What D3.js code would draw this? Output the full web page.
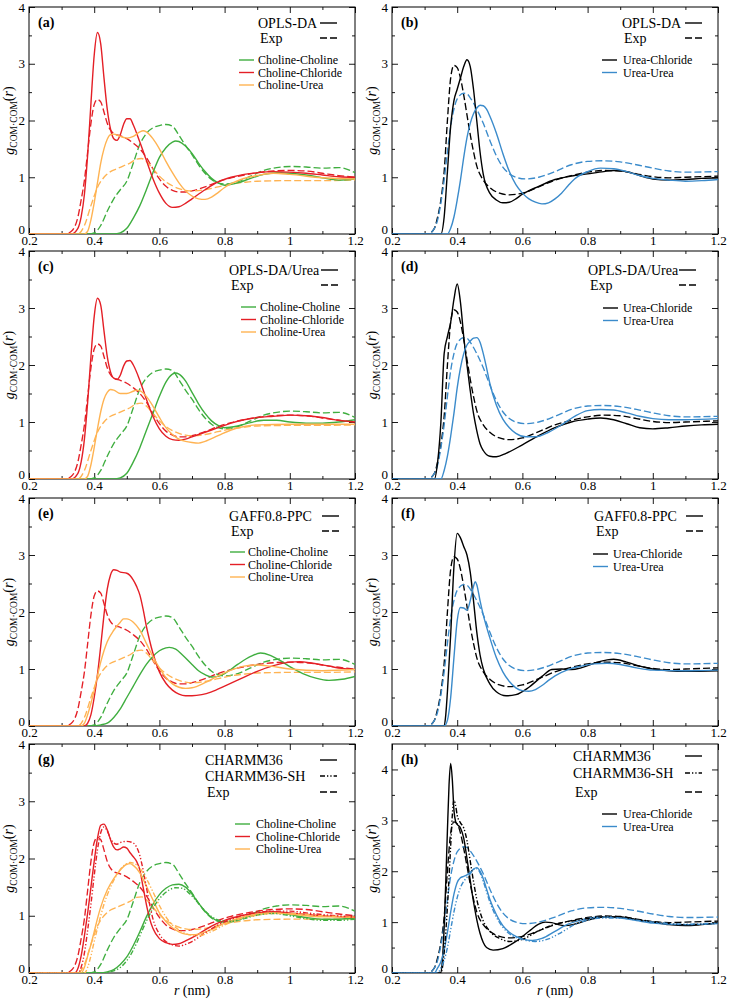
<!DOCTYPE html>
<html><head><meta charset="utf-8">
<script src="https://cdn.jsdelivr.net/npm/d3@7"></script>
<style>body{margin:0;background:#fff}svg{display:block}</style>
</head><body><svg id="c" width="729" height="1000"></svg>
<script>
// ---------- DATA ----------
const xTicks = [0.2,0.4,0.6,0.8,1.0,1.2];
const yTicks = [0,1,2,3,4];
const panelLetters = ["(a)","(b)","(c)","(d)","(e)","(f)","(g)","(h)"];
const modelNames = [["OPLS-DA"],["OPLS-DA"],["OPLS-DA/Urea"],["OPLS-DA/Urea"],["GAFF0.8-PPC"],["GAFF0.8-PPC"],["CHARMM36","CHARMM36-SH"],["CHARMM36","CHARMM36-SH"]];
const cholineLabels = ["Choline-Choline","Choline-Chloride","Choline-Urea"];
const ureaLabels = ["Urea-Chloride","Urea-Urea"];

// Experimental curves (same in every panel of a column)
const expCholCholine = [[0.2,0],[0.38,0],[0.40,0.02],[0.42,0.15],[0.44,0.4],[0.46,0.62],[0.48,0.78],[0.50,0.93],[0.52,1.25],[0.54,1.58],[0.56,1.77],[0.58,1.87],[0.60,1.91],[0.62,1.93],[0.64,1.9],[0.66,1.74],[0.68,1.56],[0.70,1.4],[0.72,1.22],[0.74,1.07],[0.76,0.96],[0.78,0.9],[0.80,0.88],[0.84,0.92],[0.88,1.02],[0.92,1.12],[0.96,1.17],[1.0,1.19],[1.05,1.18],[1.1,1.16],[1.15,1.17],[1.2,1.08]];
const expCholChloride = [[0.2,0],[0.31,0],[0.33,0.05],[0.35,0.3],[0.36,0.6],[0.37,0.95],[0.38,1.45],[0.39,1.95],[0.40,2.28],[0.41,2.37],[0.42,2.33],[0.43,2.15],[0.44,1.95],[0.45,1.83],[0.46,1.77],[0.48,1.73],[0.50,1.68],[0.52,1.6],[0.54,1.5],[0.56,1.35],[0.58,1.15],[0.60,0.97],[0.62,0.84],[0.64,0.77],[0.66,0.74],[0.68,0.74],[0.70,0.76],[0.74,0.83],[0.78,0.92],[0.82,0.99],[0.86,1.04],[0.90,1.08],[0.95,1.11],[1.0,1.12],[1.05,1.11],[1.1,1.07],[1.15,1.03],[1.2,1.0]];
const expCholUrea = [[0.2,0],[0.35,0],[0.37,0.15],[0.39,0.5],[0.41,0.82],[0.43,1.0],[0.45,1.1],[0.47,1.15],[0.49,1.2],[0.51,1.25],[0.53,1.32],[0.545,1.33],[0.56,1.28],[0.58,1.15],[0.60,1.02],[0.62,0.92],[0.64,0.85],[0.66,0.8],[0.68,0.77],[0.70,0.76],[0.74,0.78],[0.78,0.83],[0.82,0.88],[0.86,0.91],[0.9,0.93],[1.0,0.94],[1.1,0.94],[1.2,0.95]];
const expUreaChloride = [[0.2,0],[0.31,0],[0.33,0.1],[0.34,0.3],[0.35,0.6],[0.36,1.1],[0.37,2.0],[0.38,2.75],[0.39,2.97],[0.40,2.93],[0.41,2.75],[0.42,2.45],[0.43,2.1],[0.44,1.75],[0.45,1.45],[0.46,1.2],[0.48,0.95],[0.50,0.82],[0.53,0.72],[0.56,0.69],[0.60,0.72],[0.65,0.83],[0.70,0.95],[0.75,1.03],[0.80,1.09],[0.85,1.12],[0.90,1.11],[0.95,1.06],[1.0,1.01],[1.05,0.99],[1.1,1.0],[1.2,1.02]];
const expUreaUrea = [[0.2,0],[0.31,0],[0.33,0.1],[0.34,0.25],[0.35,0.55],[0.36,0.95],[0.37,1.45],[0.38,1.9],[0.39,2.2],[0.40,2.38],[0.42,2.48],[0.43,2.47],[0.44,2.4],[0.46,2.2],[0.48,1.95],[0.50,1.65],[0.52,1.38],[0.54,1.18],[0.56,1.06],[0.58,1.0],[0.61,0.97],[0.65,1.0],[0.70,1.1],[0.75,1.22],[0.80,1.28],[0.85,1.29],[0.90,1.27],[0.95,1.22],[1.0,1.16],[1.05,1.11],[1.1,1.09],[1.2,1.1]];

// (a) OPLS-DA
const aCholine = [[0.2,0],[0.46,0],[0.48,0.02],[0.50,0.1],[0.52,0.28],[0.54,0.5],[0.56,0.78],[0.58,1.08],[0.60,1.35],[0.62,1.52],[0.64,1.62],[0.65,1.64],[0.66,1.63],[0.68,1.55],[0.70,1.42],[0.72,1.25],[0.74,1.1],[0.76,0.98],[0.78,0.9],[0.80,0.86],[0.84,0.9],[0.88,0.98],[0.92,1.05],[0.96,1.08],[1.0,1.07],[1.05,1.04],[1.1,0.99],[1.15,0.95],[1.2,0.97]];
const aChloride = [[0.2,0],[0.33,0],[0.35,0.1],[0.36,0.3],[0.37,0.7],[0.38,1.4],[0.39,2.3],[0.40,3.15],[0.41,3.55],[0.42,3.35],[0.43,2.75],[0.44,2.2],[0.45,1.85],[0.46,1.68],[0.47,1.65],[0.48,1.75],[0.49,1.93],[0.50,2.03],[0.51,2.03],[0.52,1.92],[0.54,1.62],[0.56,1.3],[0.58,0.98],[0.60,0.72],[0.62,0.54],[0.64,0.47],[0.66,0.48],[0.68,0.54],[0.70,0.62],[0.74,0.78],[0.78,0.92],[0.82,1.0],[0.86,1.05],[0.90,1.08],[0.95,1.1],[1.0,1.09],[1.05,1.07],[1.1,1.04],[1.15,1.01],[1.2,1.0]];
const aUrea = [[0.2,0],[0.37,0],[0.38,0.05],[0.39,0.25],[0.40,0.55],[0.41,0.9],[0.42,1.25],[0.43,1.5],[0.44,1.67],[0.45,1.75],[0.46,1.76],[0.48,1.72],[0.50,1.69],[0.52,1.72],[0.54,1.8],[0.55,1.82],[0.56,1.8],[0.58,1.68],[0.60,1.5],[0.62,1.28],[0.64,1.08],[0.66,0.9],[0.68,0.76],[0.70,0.67],[0.72,0.62],[0.74,0.61],[0.76,0.65],[0.78,0.73],[0.80,0.82],[0.85,0.96],[0.90,1.03],[0.95,1.07],[1.0,1.05],[1.1,0.99],[1.2,0.97]];
// (b) OPLS-DA
const bChloride = [[0.2,0],[0.35,0],[0.36,0.3],[0.37,1.1],[0.38,1.9],[0.39,2.35],[0.40,2.55],[0.41,2.75],[0.42,2.95],[0.43,3.07],[0.44,2.95],[0.45,2.55],[0.46,2.0],[0.47,1.45],[0.48,1.05],[0.50,0.72],[0.52,0.6],[0.54,0.55],[0.56,0.56],[0.58,0.62],[0.60,0.7],[0.65,0.84],[0.70,0.96],[0.75,1.02],[0.80,1.06],[0.85,1.1],[0.88,1.12],[0.92,1.1],[0.96,1.03],[1.0,0.97],[1.05,0.95],[1.1,0.96],[1.15,0.98],[1.2,0.99]];
const bUrea = [[0.2,0],[0.37,0],[0.38,0.1],[0.39,0.3],[0.40,0.6],[0.41,0.95],[0.42,1.35],[0.43,1.7],[0.44,1.95],[0.45,2.12],[0.46,2.22],[0.47,2.27],[0.48,2.26],[0.49,2.2],[0.50,2.08],[0.52,1.78],[0.54,1.42],[0.56,1.1],[0.58,0.87],[0.60,0.72],[0.62,0.62],[0.64,0.56],[0.66,0.53],[0.68,0.55],[0.70,0.62],[0.72,0.72],[0.74,0.85],[0.76,0.97],[0.80,1.1],[0.84,1.16],[0.88,1.15],[0.92,1.1],[0.96,1.03],[1.0,0.98],[1.05,0.95],[1.1,0.93],[1.15,0.94],[1.2,0.96]];
// (c) OPLS-DA/Urea
const cCholine = [[0.2,0],[0.46,0],[0.48,0.02],[0.50,0.1],[0.52,0.3],[0.54,0.55],[0.56,0.85],[0.58,1.15],[0.60,1.45],[0.62,1.7],[0.64,1.84],[0.65,1.86],[0.66,1.84],[0.68,1.72],[0.70,1.52],[0.72,1.32],[0.74,1.15],[0.76,1.02],[0.78,0.94],[0.80,0.9],[0.84,0.93],[0.88,0.99],[0.92,1.03],[0.96,1.03],[1.0,1.0],[1.05,0.98],[1.1,0.98],[1.15,1.0],[1.2,1.04]];
const cChloride = [[0.2,0],[0.33,0],[0.35,0.1],[0.36,0.3],[0.37,0.7],[0.38,1.35],[0.39,2.15],[0.40,2.85],[0.41,3.17],[0.42,3.05],[0.43,2.6],[0.44,2.15],[0.45,1.88],[0.46,1.77],[0.47,1.75],[0.48,1.82],[0.49,1.98],[0.50,2.07],[0.51,2.08],[0.52,2.0],[0.54,1.73],[0.56,1.4],[0.58,1.1],[0.60,0.88],[0.62,0.75],[0.64,0.69],[0.66,0.68],[0.68,0.7],[0.70,0.74],[0.74,0.82],[0.78,0.9],[0.82,0.98],[0.86,1.04],[0.90,1.08],[0.95,1.1],[1.0,1.12],[1.05,1.11],[1.1,1.08],[1.15,1.03],[1.2,1.0]];
const cUrea = [[0.2,0],[0.37,0],[0.38,0.05],[0.39,0.25],[0.40,0.55],[0.41,0.88],[0.42,1.18],[0.43,1.4],[0.44,1.52],[0.45,1.57],[0.46,1.56],[0.48,1.5],[0.50,1.5],[0.52,1.54],[0.53,1.56],[0.54,1.55],[0.56,1.45],[0.58,1.28],[0.60,1.08],[0.62,0.9],[0.64,0.78],[0.66,0.7],[0.68,0.66],[0.70,0.64],[0.72,0.63],[0.74,0.66],[0.78,0.76],[0.82,0.86],[0.86,0.92],[0.90,0.95],[1.0,0.96],[1.1,0.96],[1.2,0.96]];
// (d) OPLS-DA/Urea
const dChloride = [[0.2,0],[0.33,0],[0.34,0.3],[0.35,1.0],[0.36,2.2],[0.37,2.5],[0.38,2.75],[0.39,3.15],[0.40,3.42],[0.41,3.1],[0.42,2.5],[0.43,2.0],[0.44,1.55],[0.45,1.15],[0.46,0.85],[0.47,0.62],[0.48,0.5],[0.50,0.4],[0.52,0.39],[0.55,0.45],[0.60,0.6],[0.65,0.76],[0.70,0.9],[0.75,1.0],[0.80,1.05],[0.84,1.07],[0.88,1.04],[0.92,0.97],[0.96,0.9],[1.0,0.88],[1.05,0.9],[1.1,0.93],[1.15,0.95],[1.2,0.96]];
const dUrea = [[0.2,0],[0.35,0],[0.36,0.15],[0.37,0.4],[0.38,0.75],[0.39,1.15],[0.40,1.6],[0.41,1.95],[0.42,2.2],[0.43,2.35],[0.44,2.42],[0.45,2.47],[0.46,2.48],[0.47,2.4],[0.48,2.2],[0.49,1.95],[0.50,1.68],[0.52,1.3],[0.54,1.05],[0.56,0.9],[0.58,0.8],[0.61,0.74],[0.64,0.74],[0.68,0.82],[0.72,0.95],[0.76,1.1],[0.80,1.2],[0.84,1.22],[0.88,1.21],[0.92,1.16],[0.96,1.1],[1.0,1.06],[1.05,1.04],[1.1,1.04],[1.2,1.06]];
// (e) GAFF0.8-PPC
const eCholine = [[0.2,0],[0.40,0],[0.42,0.02],[0.44,0.05],[0.46,0.15],[0.48,0.3],[0.50,0.5],[0.52,0.7],[0.54,0.9],[0.56,1.08],[0.58,1.22],[0.60,1.32],[0.62,1.37],[0.63,1.38],[0.65,1.35],[0.67,1.25],[0.70,1.08],[0.72,0.97],[0.74,0.9],[0.76,0.86],[0.78,0.87],[0.80,0.92],[0.84,1.08],[0.88,1.22],[0.91,1.28],[0.94,1.24],[0.97,1.15],[1.0,1.04],[1.04,0.92],[1.08,0.84],[1.12,0.8],[1.16,0.82],[1.2,0.87]];
const eChloride = [[0.2,0],[0.37,0],[0.38,0.05],[0.39,0.2],[0.40,0.5],[0.41,0.9],[0.42,1.4],[0.43,1.95],[0.44,2.4],[0.45,2.65],[0.46,2.74],[0.47,2.73],[0.48,2.7],[0.50,2.68],[0.52,2.56],[0.53,2.45],[0.54,2.3],[0.55,2.05],[0.56,1.75],[0.57,1.5],[0.58,1.28],[0.60,0.95],[0.62,0.75],[0.64,0.63],[0.66,0.56],[0.68,0.53],[0.70,0.53],[0.73,0.55],[0.76,0.6],[0.80,0.7],[0.85,0.83],[0.90,0.96],[0.95,1.06],[1.0,1.12],[1.03,1.13],[1.07,1.1],[1.12,1.05],[1.16,1.01],[1.2,0.99]];
const eUrea = [[0.2,0],[0.36,0],[0.37,0.05],[0.38,0.2],[0.39,0.4],[0.40,0.62],[0.41,0.88],[0.42,1.12],[0.43,1.32],[0.44,1.48],[0.46,1.68],[0.48,1.82],[0.49,1.88],[0.50,1.88],[0.52,1.82],[0.54,1.68],[0.56,1.45],[0.58,1.22],[0.60,1.02],[0.62,0.85],[0.64,0.74],[0.66,0.68],[0.68,0.66],[0.70,0.67],[0.74,0.76],[0.78,0.88],[0.82,0.98],[0.86,1.05],[0.90,1.07],[0.94,1.05],[1.0,1.0],[1.1,0.97],[1.2,0.99]];
// (f) GAFF0.8-PPC
const fChloride = [[0.2,0],[0.36,0],[0.365,0.2],[0.37,0.6],[0.38,1.6],[0.39,2.8],[0.40,3.38],[0.41,3.3],[0.42,3.15],[0.43,3.0],[0.44,2.7],[0.45,2.2],[0.46,1.65],[0.47,1.25],[0.48,1.0],[0.50,0.74],[0.52,0.6],[0.55,0.53],[0.58,0.55],[0.62,0.68],[0.66,0.87],[0.69,0.99],[0.72,1.0],[0.75,0.99],[0.78,1.02],[0.82,1.1],[0.86,1.16],[0.88,1.17],[0.92,1.12],[0.96,1.05],[1.0,1.0],[1.05,0.97],[1.1,0.96],[1.2,0.97]];
const fUrea = [[0.2,0],[0.36,0],[0.37,0.1],[0.38,0.5],[0.39,1.2],[0.40,1.85],[0.41,2.08],[0.42,2.07],[0.43,2.03],[0.44,2.2],[0.45,2.45],[0.455,2.53],[0.46,2.48],[0.47,2.2],[0.48,1.95],[0.50,1.55],[0.52,1.2],[0.54,0.95],[0.56,0.78],[0.58,0.67],[0.60,0.62],[0.62,0.61],[0.64,0.64],[0.66,0.71],[0.68,0.8],[0.70,0.88],[0.74,0.99],[0.78,1.05],[0.82,1.09],[0.86,1.1],[0.90,1.08],[0.95,1.02],[1.0,0.98],[1.1,0.97],[1.2,0.98]];
// (g) CHARMM36 / CHARMM36-SH
const gCholine = [[0.2,0],[0.42,0],[0.44,0.02],[0.46,0.06],[0.48,0.15],[0.50,0.28],[0.52,0.48],[0.54,0.72],[0.56,0.98],[0.58,1.2],[0.60,1.37],[0.62,1.48],[0.64,1.54],[0.66,1.55],[0.68,1.5],[0.70,1.38],[0.72,1.22],[0.74,1.08],[0.76,0.97],[0.78,0.91],[0.80,0.89],[0.84,0.94],[0.88,1.0],[0.92,1.04],[0.96,1.05],[1.0,1.02],[1.05,0.97],[1.1,0.94],[1.15,0.94],[1.2,0.96]];
const gChloride = [[0.2,0],[0.34,0],[0.35,0.08],[0.36,0.3],[0.37,0.65],[0.38,1.05],[0.39,1.5],[0.40,1.95],[0.41,2.35],[0.42,2.58],[0.43,2.6],[0.44,2.5],[0.45,2.33],[0.46,2.2],[0.47,2.15],[0.48,2.17],[0.49,2.2],[0.50,2.18],[0.51,2.1],[0.52,2.03],[0.53,1.95],[0.54,1.8],[0.55,1.5],[0.56,1.2],[0.57,0.95],[0.58,0.78],[0.60,0.6],[0.62,0.53],[0.64,0.5],[0.66,0.51],[0.68,0.56],[0.72,0.68],[0.76,0.82],[0.80,0.92],[0.85,1.0],[0.90,1.05],[0.95,1.07],[1.0,1.05],[1.1,1.0],[1.2,0.97]];
const gUrea = [[0.2,0],[0.36,0],[0.37,0.1],[0.38,0.3],[0.39,0.5],[0.40,0.72],[0.41,0.95],[0.42,1.15],[0.44,1.45],[0.46,1.65],[0.48,1.8],[0.50,1.9],[0.51,1.91],[0.52,1.88],[0.54,1.75],[0.56,1.52],[0.58,1.28],[0.60,1.05],[0.62,0.9],[0.64,0.79],[0.66,0.72],[0.68,0.68],[0.70,0.67],[0.72,0.68],[0.76,0.76],[0.80,0.87],[0.85,0.97],[0.90,1.03],[0.95,1.05],[1.0,1.03],[1.1,0.98],[1.2,0.98]];
const gCholineSH = [[0.2,0],[0.43,0],[0.45,0.02],[0.47,0.06],[0.49,0.15],[0.51,0.3],[0.53,0.52],[0.55,0.78],[0.57,1.02],[0.59,1.22],[0.61,1.36],[0.63,1.45],[0.65,1.49],[0.67,1.48],[0.69,1.4],[0.71,1.28],[0.73,1.15],[0.75,1.03],[0.77,0.95],[0.79,0.91],[0.82,0.9],[0.86,0.95],[0.90,1.01],[0.95,1.04],[1.0,1.0],[1.05,0.95],[1.1,0.92],[1.15,0.92],[1.2,0.94]];
const gChlorideSH = [[0.2,0],[0.35,0],[0.36,0.1],[0.37,0.35],[0.38,0.75],[0.39,1.2],[0.40,1.7],[0.41,2.15],[0.42,2.45],[0.43,2.55],[0.44,2.48],[0.45,2.35],[0.46,2.27],[0.47,2.25],[0.48,2.28],[0.50,2.3],[0.52,2.27],[0.53,2.2],[0.54,2.05],[0.55,1.8],[0.56,1.5],[0.57,1.2],[0.58,0.95],[0.60,0.68],[0.62,0.55],[0.64,0.49],[0.66,0.47],[0.68,0.5],[0.70,0.55],[0.74,0.7],[0.78,0.84],[0.82,0.94],[0.86,1.01],[0.90,1.06],[0.95,1.08],[1.0,1.08],[1.05,1.05],[1.1,1.02],[1.2,0.98]];
const gUreaSH = [[0.2,0],[0.37,0],[0.38,0.1],[0.39,0.3],[0.40,0.55],[0.41,0.78],[0.42,1.0],[0.43,1.2],[0.45,1.5],[0.47,1.72],[0.49,1.87],[0.50,1.91],[0.51,1.93],[0.52,1.92],[0.54,1.83],[0.56,1.65],[0.58,1.42],[0.60,1.18],[0.62,0.98],[0.64,0.84],[0.66,0.75],[0.68,0.69],[0.70,0.66],[0.72,0.65],[0.75,0.7],[0.80,0.84],[0.85,0.95],[0.90,1.01],[0.95,1.04],[1.0,1.04],[1.1,1.0],[1.2,0.97]];
// (h) CHARMM36 / CHARMM36-SH
const hChloride = [[0.2,0],[0.35,0],[0.355,0.3],[0.36,0.9],[0.365,1.8],[0.37,2.8],[0.375,3.7],[0.38,4.12],[0.385,3.8],[0.39,3.2],[0.395,2.98],[0.40,2.92],[0.41,2.85],[0.42,2.65],[0.43,2.25],[0.44,1.82],[0.45,1.4],[0.46,1.05],[0.47,0.78],[0.48,0.6],[0.49,0.5],[0.51,0.45],[0.54,0.48],[0.58,0.62],[0.62,0.82],[0.65,0.96],[0.67,1.0],[0.69,0.99],[0.71,0.95],[0.73,0.93],[0.76,0.96],[0.80,1.04],[0.85,1.1],[0.90,1.1],[0.95,1.05],[1.0,1.0],[1.05,0.95],[1.1,0.93],[1.15,0.95],[1.2,0.98]];
const hUrea = [[0.2,0],[0.33,0],[0.34,0.1],[0.35,0.22],[0.36,0.45],[0.37,0.8],[0.38,1.2],[0.39,1.55],[0.40,1.78],[0.41,1.87],[0.42,1.9],[0.43,1.93],[0.44,1.98],[0.45,2.04],[0.46,2.07],[0.47,2.0],[0.48,1.85],[0.49,1.65],[0.50,1.45],[0.52,1.15],[0.54,0.93],[0.56,0.8],[0.58,0.72],[0.60,0.67],[0.63,0.64],[0.66,0.68],[0.70,0.82],[0.74,0.96],[0.78,1.04],[0.82,1.09],[0.86,1.1],[0.90,1.08],[0.95,1.03],[1.0,0.98],[1.1,0.95],[1.2,0.97]];
const hChlorideSH = [[0.2,0],[0.35,0],[0.36,0.4],[0.37,1.3],[0.38,2.5],[0.385,3.1],[0.39,3.4],[0.395,3.3],[0.40,3.1],[0.41,2.95],[0.42,2.85],[0.43,2.6],[0.44,2.2],[0.45,1.8],[0.46,1.45],[0.47,1.2],[0.48,1.02],[0.50,0.82],[0.53,0.68],[0.56,0.62],[0.60,0.66],[0.65,0.83],[0.70,0.96],[0.75,1.02],[0.80,1.07],[0.85,1.1],[0.90,1.1],[0.95,1.05],[1.0,1.0],[1.05,0.97],[1.1,0.95],[1.2,0.98]];
const hUreaSH = [[0.2,0],[0.34,0],[0.35,0.1],[0.36,0.25],[0.37,0.5],[0.38,0.85],[0.39,1.2],[0.40,1.48],[0.41,1.68],[0.42,1.8],[0.43,1.88],[0.44,1.95],[0.45,2.03],[0.46,2.05],[0.47,1.97],[0.48,1.8],[0.49,1.6],[0.50,1.4],[0.52,1.1],[0.54,0.9],[0.56,0.77],[0.60,0.66],[0.64,0.62],[0.68,0.67],[0.72,0.8],[0.76,0.95],[0.80,1.04],[0.85,1.08],[0.90,1.08],[0.95,1.04],[1.0,1.0],[1.1,0.96],[1.2,0.98]];

// ---------- STYLE / LAYOUT ----------
const C = {green:"#3fae3f", red:"#e41f26", orange:"#ffb352", blue:"#3b8bcb", black:"#000"};
const DASH = {solid:null, dash:"7,3", sh:"5,2,1.3,2,1.3,2"};
const FONT = "'Liberation Serif','Times New Roman',serif";
const cols = [{l:29,r:355},{l:392,r:718}];
const rows = [{t:7,b:234},{t:251,b:479},{t:498,b:726},{t:744,b:973}];

const cholColors = [C.green, C.red, C.orange];
const ureaColors = [C.black, C.blue];

const panels = [
 {col:0,row:0,ymax:4, sims:[[aCholine,aChloride,aUrea]], leg:{tx:229,lx:291,ly:[16,31],sx:229,sl:210,sy:[53,65.5,78]}},
 {col:1,row:0,ymax:4, sims:[[bChloride,bUrea]], leg:{tx:230,lx:293,ly:[16,31],sx:231,sl:210,sy:[53,65.5]}},
 {col:0,row:1,ymax:4, sims:[[cCholine,cChloride,cUrea]], leg:{tx:200,lx:292,ly:[19,34],sx:231,sl:212,sy:[56,68.5,81]}},
 {col:1,row:1,ymax:4, sims:[[dChloride,dUrea]], leg:{tx:196,lx:287,ly:[19,34],sx:231,sl:211,sy:[57,69.5]}},
 {col:0,row:2,ymax:4, sims:[[eCholine,eChloride,eUrea]], leg:{tx:200,lx:293,ly:[18,33],sx:219,sl:201,sy:[54,66.5,79]}},
 {col:1,row:2,ymax:4, sims:[[fChloride,fUrea]], leg:{tx:202,lx:294,ly:[18,33],sx:221,sl:201,sy:[56,68.5]}},
 {col:0,row:3,ymax:4, sims:[[gCholine,gChloride,gUrea],[gCholineSH,gChlorideSH,gUreaSH]], leg:{tx:176,lx:291,ly:[16,32,48],sx:227,sl:206,sy:[80,92.5,105]}},
 {col:1,row:3,ymax:4.5, sims:[[hChloride,hUrea],[hChlorideSH,hUreaSH]], leg:{tx:181,lx:293,ly:[12,29,48],sx:231,sl:210,sy:[70,82.5]}}
];

const svg = d3.select("#c");
svg.append("rect").attr("width",729).attr("height",1000).attr("fill","#fff");

const line = (x,y) => d3.line().x(d=>x(d[0])).y(d=>y(d[1])).curve(d3.curveMonotoneX);

panels.forEach((p,i)=>{
  const c = cols[p.col], rw = rows[p.row];
  const x = d3.scaleLinear().domain([0.2,1.2]).range([c.l,c.r]);
  const y = d3.scaleLinear().domain([0,p.ymax]).range([rw.b,rw.t]);
  const g = svg.append("g");
  const isChol = p.col===0;
  const expSets = isChol ? [expCholCholine,expCholChloride,expCholUrea] : [expUreaChloride,expUreaUrea];
  const colors = isChol ? cholColors : ureaColors;
  const labels = isChol ? cholineLabels : ureaLabels;

  const xMinor = d3.range(0.3,1.2,0.2);
  const yMinor = d3.range(0.5,p.ymax,1);
  const ax = [
    g.append("g").attr("transform",`translate(0,${rw.b})`).call(d3.axisBottom(x).tickValues(xTicks).tickSize(-6).tickPadding(2).tickFormat(d=>String(+d.toFixed(1)))),
    g.append("g").attr("transform",`translate(0,${rw.b})`).call(d3.axisBottom(x).tickValues(xMinor).tickSize(-3).tickFormat("")),
    g.append("g").attr("transform",`translate(0,${rw.t})`).call(d3.axisTop(x).tickValues(xTicks).tickSize(-6).tickFormat("")),
    g.append("g").attr("transform",`translate(0,${rw.t})`).call(d3.axisTop(x).tickValues(xMinor).tickSize(-3).tickFormat("")),
    g.append("g").attr("transform",`translate(${c.l},0)`).call(d3.axisLeft(y).tickValues(yTicks).tickSize(-6).tickPadding(4).tickFormat(d3.format("d"))),
    g.append("g").attr("transform",`translate(${c.l},0)`).call(d3.axisLeft(y).tickValues(yMinor).tickSize(-3).tickFormat("")),
    g.append("g").attr("transform",`translate(${c.r},0)`).call(d3.axisRight(y).tickValues(yTicks).tickSize(-6).tickFormat("")),
    g.append("g").attr("transform",`translate(${c.r},0)`).call(d3.axisRight(y).tickValues(yMinor).tickSize(-3).tickFormat(""))
  ];
  ax.forEach(a=>{a.select(".domain").remove(); a.selectAll("line").attr("stroke","#000").attr("stroke-width",0.9);
    a.selectAll("text").attr("font-family",FONT).attr("font-size",13).attr("fill","#000");});
  ax[4].selectAll(".tick").filter(d=>d===0).select("text").attr("dy","-0.05em");
  g.append("rect").attr("x",c.l).attr("y",rw.t).attr("width",c.r-c.l).attr("height",rw.b-rw.t)
    .attr("fill","none").attr("stroke","#000").attr("stroke-width",1);

  const cid = "clip"+i;
  svg.append("clipPath").attr("id",cid).append("rect").attr("x",c.l).attr("y",rw.t).attr("width",c.r-c.l).attr("height",rw.b-rw.t);
  const pg = g.append("g").attr("clip-path",`url(#${cid})`);
  const L = line(x,y);
  expSets.forEach((d,k)=>pg.append("path").attr("d",L(d)).attr("fill","none").attr("stroke",colors[k]).attr("stroke-width",1.35).attr("stroke-dasharray",DASH.dash));
  p.sims.forEach((set,si)=>{
    set.forEach((d,k)=>pg.append("path").attr("d",L(d)).attr("fill","none").attr("stroke",colors[k]).attr("stroke-width",1.4)
      .attr("stroke-dasharray", si===0?null:DASH.sh));
  });

  g.append("text").attr("x",c.l+9).attr("y",rw.t+20).attr("font-family",FONT).attr("font-weight","bold").attr("font-size",14).text(panelLetters[i]);

  const names = modelNames[i].concat(["Exp"]);
  const styles = modelNames[i].length===2 ? ["solid","sh","dash"] : ["solid","dash"];
  names.forEach((n,k)=>{
    const yy = rw.t + p.leg.ly[k];
    g.append("text").attr("x",c.l+p.leg.tx+(n==="Exp"?2:0)).attr("y",yy).attr("dy","0.35em").attr("font-family",FONT).attr("font-size",14).text(n);
    g.append("line").attr("x1",c.l+p.leg.lx).attr("x2",c.l+p.leg.lx+17).attr("y1",yy).attr("y2",yy)
      .attr("stroke","#000").attr("stroke-width",1.4).attr("stroke-dasharray",DASH[styles[k]]);
  });
  labels.forEach((n,k)=>{
    const yy = rw.t + p.leg.sy[k];
    g.append("line").attr("x1",c.l+p.leg.sl).attr("x2",c.l+p.leg.sl+15).attr("y1",yy).attr("y2",yy).attr("stroke",colors[k]).attr("stroke-width",1.4);
    g.append("text").attr("x",c.l+p.leg.sx).attr("y",yy).attr("dy","0.35em").attr("font-family",FONT).attr("font-size",12).text(n);
  });

  const yl = g.append("text").attr("transform",`translate(${c.l-15},${(rw.t+rw.b)/2}) rotate(-90)`)
    .attr("text-anchor","middle").attr("font-family",FONT).attr("font-size",14);
  yl.append("tspan").attr("font-style","italic").text("g");
  yl.append("tspan").attr("font-size",9.5).attr("dy",3).text("COM·COM");
  yl.append("tspan").attr("dy",-4).text("(");
  yl.append("tspan").attr("font-style","italic").text("r");
  yl.append("tspan").text(")");

  if(p.row===3){
    const xl = g.append("text").attr("x",(c.l+c.r)/2).attr("y",995).attr("text-anchor","middle").attr("font-family",FONT).attr("font-size",14);
    xl.append("tspan").attr("font-style","italic").text("r");
    xl.append("tspan").text(" (nm)");
  }
});
</script></body></html>
